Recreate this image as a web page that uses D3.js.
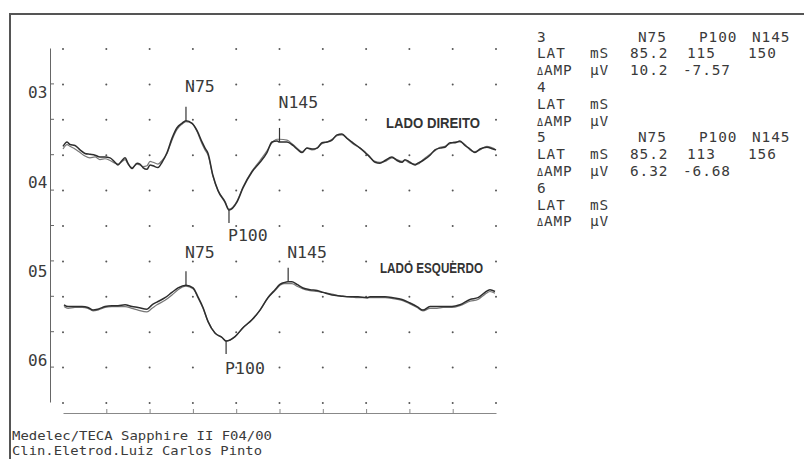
<!DOCTYPE html>
<html><head><meta charset="utf-8">
<script src="https://cdn.jsdelivr.net/npm/d3@7"></script>
<style>body{margin:0;background:#fff} svg{display:block}</style>
</head><body><svg id="c" width="804" height="459"></svg>
<script>
// ---------- DATA ----------
const gridTimes = [0, 30, 60, 90, 120, 150, 180, 210, 240, 270, 300]; // ms
const gridRows = [0, 1, 2, 3, 4, 5, 6, 7, 8, 9, 10];                 // divisions
const axisRowTicks = [1, 2, 3, 4, 5, 6, 7, 8, 9];
const axisTimeTicks = [30, 60, 90, 120, 150, 180, 210, 240, 270];
const channelLabels = ["03", "04", "05", "06"];

const upperTimes = [0, 2.8, 4.8, 8.3, 11.8, 15.2, 18.7, 22.2, 25.6, 29.1, 32.6, 36.0, 38.1, 40.9, 43.0, 45.0, 47.8, 51.3, 53.3, 55.4, 58.2, 60.3, 62.4, 65.8, 68.6, 72.1, 75.5, 79.0, 82.4, 85.2, 89.4, 92.8, 96.3, 98.4, 100.5, 103.9, 107.4, 112.2, 115.0, 120.5, 124.7, 130.9, 136.5, 141.3, 144.8, 148.3, 150.0, 155.2, 159.3, 162.8, 165.6, 169.0, 172.5, 176.0, 179.4, 182.9, 186.4, 189.8, 193.3, 196.8, 200.9, 205.8, 209.2, 212.7, 216.2, 219.6, 223.1, 227.9, 231.4, 234.9, 236.9, 240.4, 243.9, 245.9, 249.4, 254.3, 257.7, 261.2, 264.6, 268.1, 271.6, 275.0, 278.5, 282.0, 285.4, 288.9, 293.7, 297.9, 300];
const upperA = [-1.0, -1.5, -1.2, -1.1, -0.6, -0.2, -0.1, 0.0, 0.2, 0.2, 0.3, 0.8, 1.1, 0.6, 0.3, 0.9, 1.5, 0.9, 1.0, 1.4, 1.6, 1.1, 1.2, 1.4, 0.8, -0.3, -1.9, -3.1, -3.6, -3.9, -3.6, -2.8, -1.5, -0.8, -0.2, 2.3, 4.0, 5.3, 6.2, 5.3, 3.7, 1.9, 0.8, -0.3, -1.5, -1.6, -1.5, -1.5, -1.1, -0.6, -0.3, -0.8, -0.7, -0.8, -1.4, -1.5, -1.7, -2.3, -2.4, -1.9, -1.4, -0.8, -0.3, 0.2, 0.8, 0.9, 0.6, 0.2, 0.6, 0.8, 0.5, 0.8, 1.1, 0.9, 0.6, 0.0, -0.6, -0.8, -0.9, -1.4, -1.4, -1.6, -1.1, -0.7, -0.3, -0.7, -0.9, -0.7, -0.6];
const upperB = [-0.7, -1.2, -1.0, -0.7, -0.3, 0.1, 0.3, 0.2, 0.5, 0.4, 0.6, 0.9, 1.0, 0.7, 0.5, 1.0, 1.4, 1.0, 1.1, 1.3, 1.2, 0.7, 0.8, 1.0, 0.6, -0.2, -1.7, -2.9, -3.5, -3.8, -3.6, -2.7, -1.3, -0.6, 0.0, 2.4, 4.0, 5.2, 6.1, 5.2, 3.6, 1.8, 0.6, -0.5, -1.4, -1.8, -1.8, -1.7, -1.2, -0.7, -0.4, -0.8, -0.6, -0.8, -1.3, -1.5, -1.8, -2.2, -2.3, -1.9, -1.3, -0.8, -0.4, 0.3, 0.7, 0.8, 0.7, 0.3, 0.5, 0.7, 0.6, 0.9, 1.0, 1.0, 0.5, -0.1, -0.5, -0.9, -1.0, -1.3, -1.5, -1.5, -1.2, -0.6, -0.4, -0.6, -1.0, -0.8, -0.6];

const lowerTimes = [0.7, 3.5, 8.3, 13.2, 17.3, 20.8, 24.2, 29.1, 33.9, 38.1, 43.0, 47.8, 52.0, 58.2, 61.7, 65.1, 70.7, 75.5, 79.7, 85.2, 90.1, 93.5, 97.0, 100.5, 105.3, 110.2, 113.0, 119.2, 124.7, 130.9, 136.5, 142.0, 146.9, 150.3, 153.1, 156.0, 158.6, 162.1, 166.3, 171.1, 176.0, 180.1, 186.4, 191.9, 198.8, 204.4, 210.6, 212.7, 217.5, 223.1, 228.6, 234.9, 240.4, 245.3, 249.4, 254.3, 259.1, 263.3, 269.5, 275.0, 282.0, 287.5, 292.4, 295.8, 299.3];
const lowerA = [0.9, 1.1, 1.1, 1.1, 1.2, 1.5, 1.4, 1.1, 1.0, 1.0, 0.9, 1.1, 1.2, 1.4, 0.9, 0.6, 0.1, -0.5, -1.0, -1.3, -1.0, 0.0, 1.2, 2.8, 4.1, 4.6, 5.0, 4.5, 3.5, 2.6, 1.5, 0.1, -0.8, -1.4, -1.6, -1.7, -1.7, -1.4, -1.0, -0.8, -0.7, -0.5, -0.2, -0.1, 0.0, 0.0, 0.1, 0.0, 0.0, 0.0, 0.1, 0.3, 0.7, 1.1, 1.5, 1.1, 1.1, 1.1, 1.1, 0.9, 0.3, 0.1, -0.5, -0.8, -0.6];
const lowerB = [1.1, 1.3, 1.2, 1.2, 1.3, 1.6, 1.5, 1.2, 1.1, 1.1, 1.1, 1.3, 1.5, 1.7, 1.3, 0.9, 0.4, -0.2, -0.8, -1.2, -0.9, 0.1, 1.3, 2.8, 4.1, 4.6, 5.0, 4.5, 3.5, 2.6, 1.5, 0.1, -0.7, -1.3, -1.5, -1.5, -1.5, -1.2, -0.9, -0.7, -0.6, -0.5, -0.3, -0.1, 0.0, 0.1, 0.1, 0.1, 0.1, 0.1, 0.2, 0.4, 0.8, 1.2, 1.6, 1.3, 1.3, 1.2, 1.2, 1.0, 0.5, 0.3, -0.3, -0.6, -0.4];

const peakNames = ["N75", "P100", "N145"];
const upperPeakLat = [85.2, 115, 150];
const upperPeakAmp = [-3.9, 6.2, -1.5];
const lowerPeakLat = [85.2, 113, 156];
const lowerPeakAmp = [-1.3, 5.0, -1.7];

const tableChannels = ["3", "4", "5", "6"];
const lat3 = ["85.2", "115", "150"];
const amp3 = ["10.2", "-7.57"];
const lat5 = ["85.2", "113", "156"];
const amp5 = ["6.32", "-6.68"];
const sideLabels = ["LADO DIREITO", "LADO ESQUERDO"];
const footer = ["Medelec/TECA Sapphire II F04/00", "Clin.Eletrod.Luiz Carlos Pinto"];

// ---------- LAYOUT ----------
const svg = d3.select("#c");
const ink = "#3a3a3a";
const mono = "'DejaVu Sans Mono', monospace";
const x = d3.scaleLinear().domain([0, 300]).range([63, 496]);
const yDiv = d3.scaleLinear().domain([0, 10]).range([49, 403]);
const yUp = d3.scaleLinear().domain([-4, 4]).range([yDiv(2), yDiv(4)]);
const yLo = d3.scaleLinear().domain([-4, 4]).range([yDiv(6), yDiv(8)]);

svg.append("rect").attr("width", 804).attr("height", 459).attr("fill", "#fff");
// frame
svg.append("path").attr("d", "M10,459V14H804").attr("fill", "none")
  .attr("stroke", "#555").attr("stroke-width", 2);

// grid dots
const dots = [];
gridTimes.forEach(t => gridRows.forEach(r => dots.push([t, r])));
svg.append("g").selectAll("circle").data(dots).join("circle")
  .attr("cx", d => x(d[0])).attr("cy", d => yDiv(d[1])).attr("r", 1)
  .attr("fill", "#555");

// left axis
const ga = svg.append("g").attr("transform", "translate(50,-1)")
  .call(d3.axisRight(yDiv).tickValues(axisRowTicks).tickSize(4).tickSizeOuter(0).tickFormat(""));
ga.selectAll("path,line").attr("stroke", "#666").attr("stroke-width", 1);

// bottom axis
const gb = svg.append("g").attr("transform", "translate(0,413)")
  .call(d3.axisTop(x).tickValues(axisTimeTicks).tickSize(4).tickSizeOuter(0).tickFormat(""));
gb.selectAll("path,line").attr("stroke", "#888").attr("stroke-width", 1);

// channel labels
const chLabelY = [yDiv(1) + 14, yDiv(4) - 3, yDiv(6) + 16, yDiv(9) - 2];
svg.append("g").selectAll("text").data(channelLabels).join("text")
  .attr("x", 28).attr("y", (d, i) => chLabelY[i]).text(d => d)
  .attr("font-family", mono).attr("font-size", 16).attr("fill", ink);

// traces
function drawTrace(times, vals, ys, color, w) {
  const line = d3.line().x(d => x(d[0])).y(d => ys(d[1])).curve(d3.curveMonotoneX);
  svg.append("path").datum(times.map((t, i) => [t, vals[i]]))
    .attr("d", line).attr("fill", "none").attr("stroke", color)
    .attr("stroke-width", w).attr("stroke-linejoin", "round");
}
drawTrace(upperTimes, upperB, yUp, "#777", 1.2);
drawTrace(upperTimes, upperA, yUp, "#2e2e2e", 1.5);
drawTrace(lowerTimes, lowerB, yLo, "#777", 1.2);
drawTrace(lowerTimes, lowerA, yLo, "#2e2e2e", 1.5);

// peak markers
function drawPeaks(lats, amps, ys, labelY) {
  const g = svg.append("g");
  peakNames.forEach((name, i) => {
    const px = x(lats[i]), py = ys(amps[i]);
    const dir = name[0] === "N" ? -1 : 1;
    g.append("line").attr("x1", px).attr("x2", px).attr("y1", py)
      .attr("y2", py + dir * (dir < 0 ? 14 : 13))
      .attr("stroke", "#333").attr("stroke-width", 1.2);
    g.append("text").attr("x", px - 1).attr("y", labelY[i]).text(name)
      .attr("font-family", mono).attr("font-size", 16.5).attr("fill", ink);
  });
}
drawPeaks(upperPeakLat, upperPeakAmp, yUp, [92, 241, 108]);
drawPeaks(lowerPeakLat, lowerPeakAmp, yLo, [258, 374, 258]);

// side labels
const sidePos = [[386, 128, 94], [380, 273, 103]];
sideLabels.forEach((s, i) => {
  svg.append("text").attr("x", sidePos[i][0]).attr("y", sidePos[i][1])
    .attr("textLength", sidePos[i][2]).attr("lengthAdjust", "spacingAndGlyphs")
    .attr("font-family", "'Liberation Sans', Arial, sans-serif").attr("font-weight", "bold")
    .attr("font-size", 14.5).attr("fill", "#333").text(s);
});

// right table
const rows = [];
tableChannels.forEach(ch => {
  const hasData = ch === "3" || ch === "5";
  const lat = ch === "3" ? lat3 : lat5;
  const amp = ch === "3" ? amp3 : amp5;
  rows.push([[ch, 537]].concat(hasData ? peakNames.map((p, j) => [p, [638, 699, 752][j]]) : []));
  rows.push([["LAT", 537], ["mS", 590]].concat(hasData ? lat.map((v, j) => [v, [630, 687, 748][j]]) : []));
  rows.push([["ΔAMP", 537], ["μV", 590]].concat(hasData ? amp.map((v, j) => [v, [630, v[0] === "-" ? 683 : 687][j]]) : []));
});
const tg = svg.append("g").attr("font-family", mono).attr("font-size", 14.4)
  .attr("letter-spacing", 0.9).attr("fill", ink);
rows.forEach((row, i) => {
  const yy = 41.5 + i * 16.8;
  row.forEach(([txt, xx]) => {
    const t = tg.append("text").attr("x", xx).attr("y", yy);
    if (txt === "ΔAMP") {
      t.append("tspan").attr("font-size", 10).text("Δ");
      t.append("tspan").text("AMP");
    } else t.text(txt);
  });
});

// footer
footer.forEach((f, i) => {
  svg.append("text").attr("x", 12).attr("y", 440 + i * 15)
    .attr("textLength", i === 0 ? 260 : 250).attr("lengthAdjust", "spacingAndGlyphs")
    .attr("font-family", mono).attr("font-size", 12.8).attr("fill", ink).text(f);
});
</script></body></html>
